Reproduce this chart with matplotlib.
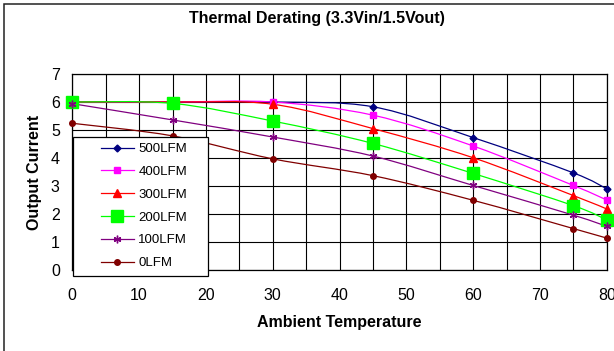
import numpy as np
import matplotlib
matplotlib.use("Agg")
import matplotlib.pyplot as plt
from matplotlib.path import Path
from matplotlib.patches import PathPatch, Rectangle
from matplotlib.lines import Line2D

plt.rcParams['font.family'] = ['Liberation Sans', 'DejaVu Sans']

# data
temps = [0, 15, 30, 45, 60, 75, 80]
lfm500 = [6.0, 6.0, 6.0, 5.83, 4.73, 3.47, 2.90]
lfm400 = [6.0, 6.0, 6.0, 5.53, 4.43, 3.02, 2.50]
lfm300 = [6.0, 6.0, 5.92, 5.05, 4.01, 2.66, 2.18]
lfm200 = [6.0, 5.95, 5.32, 4.52, 3.45, 2.30, 1.79]
lfm100 = [5.94, 5.36, 4.75, 4.07, 3.02, 1.96, 1.56]
lfm0 = [5.24, 4.79, 3.97, 3.37, 2.49, 1.48, 1.14]
labels = ["500LFM", "400LFM", "300LFM", "200LFM", "100LFM", "0LFM"]
x_ticks = [0, 10, 20, 30, 40, 50, 60, 70, 80]
y_ticks = [0, 1, 2, 3, 4, 5, 6, 7]

series = [lfm500, lfm400, lfm300, lfm200, lfm100, lfm0]
colors = ['#000080', '#FF00FF', '#FF0000', '#00FF00', '#800080', '#800000']
markers = ['D', 's', '^', 's', (6, 2, 0), 'o']
msizes = [3.5, 4.5, 6, 8.5, 5.5, 4]


def smooth_path(x, y):
    # excel style smoothed line: cubic bezier between points
    pts = np.column_stack([x, y]).astype(float)
    n = len(pts)
    verts = [pts[0]]
    codes = [Path.MOVETO]
    for i in range(n - 1):
        p0 = pts[max(i - 1, 0)]
        p1 = pts[i]
        p2 = pts[i + 1]
        p3 = pts[min(i + 2, n - 1)]
        c1 = p1 + (p2 - p0) / 6.0
        c2 = p2 - (p3 - p1) / 6.0
        verts += [c1, c2, p2]
        codes += [Path.CURVE4] * 3
    return Path(verts, codes)


fig = plt.figure(figsize=(6.14, 3.51), dpi=100)
ax = fig.add_axes([72.3 / 614, 81 / 351, 534.4 / 614, 196 / 351])

for ys, c, m, ms in zip(series, colors, markers, msizes):
    ax.add_patch(PathPatch(smooth_path(temps, ys), facecolor='none', edgecolor=c, lw=0.9, zorder=3))
    ax.plot(temps, ys, linestyle='none', marker=m, color=c, markersize=ms,
            markeredgecolor=c, markeredgewidth=1.0, zorder=4, clip_on=False)

ax.set_xlim(0, 80)
ax.set_ylim(0, 7)
ax.set_xticks(x_ticks)
ax.set_xticks(np.arange(5, 80, 10), minor=True)
ax.set_yticks(y_ticks)
ax.grid(True, which='both', color='black', lw=0.8)
ax.set_axisbelow(True)
ax.tick_params(which='both', length=0, labelsize=11.5)
ax.tick_params(axis='x', pad=13)
ax.tick_params(axis='y', pad=9)
for s in ax.spines.values():
    s.set_color('black')
    s.set_linewidth(0.9)

ax.set_xlabel("Ambient Temperature", fontsize=11.5, fontweight='bold', va='center')
ax.xaxis.set_label_coords(0.5, -0.27)
ax.set_ylabel("Output Current", fontsize=11.5, fontweight='bold', va='center')
ax.yaxis.set_label_coords(-0.07, 0.5)

fig.text(317 / 614, 1 - 18 / 351, "Thermal Derating (3.3Vin/1.5Vout)",
         ha='center', va='center', fontsize=11.5, fontweight='bold')

# legend box
ax.add_patch(Rectangle((0.001, -0.031), 0.253, 0.71, transform=ax.transAxes, facecolor='white',
                       edgecolor='black', lw=0.9, zorder=5, clip_on=False))
handles = [Line2D([], [], color=c, marker=m, markersize=ms, lw=0.9, markeredgecolor=c)
           for c, m, ms in zip(colors, markers, msizes)]
leg = ax.legend(handles, labels, loc='upper left', bbox_to_anchor=(0.053, 0.648), frameon=False,
                fontsize=9.5, handlelength=2.5, handletextpad=0.35, labelspacing=0.8,
                borderpad=0, borderaxespad=0)
leg.set_zorder(6)

# outer chart border
fig.add_artist(Rectangle((4 / 614, -0.1), 1.2, 1.1 - 4 / 351, transform=fig.transFigure,
                         fill=False, edgecolor='#222222', lw=1.1))

fig.savefig("out.png", dpi=100)
